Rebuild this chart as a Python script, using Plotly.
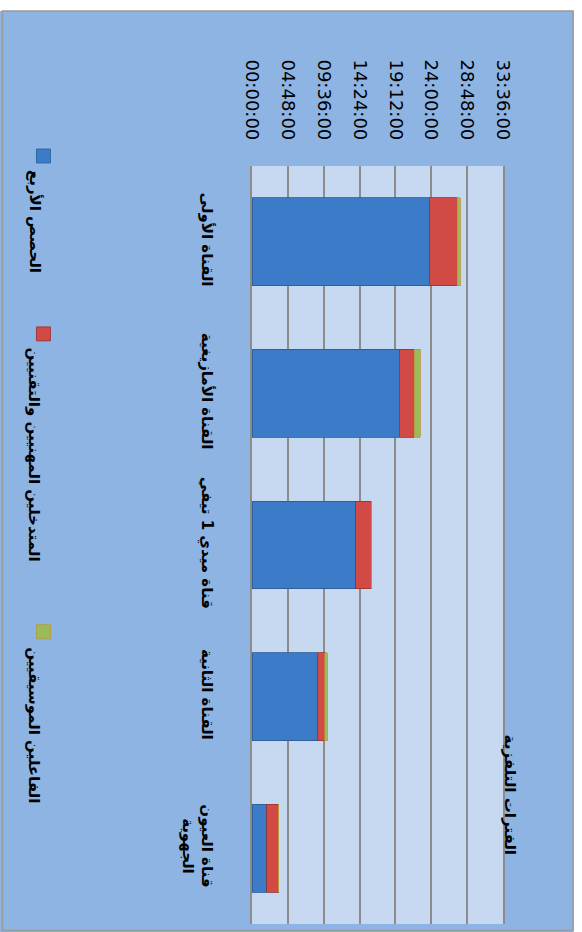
import plotly.graph_objects as go

# ---- data (hours) ----
categories = ["القناة الأولى", "القناة الأمازيغية", "قناة ميدي 1 تيفي", "القناة الثانية", "قناة العيون<br>الجهوية"]
series_names = ["الحصص الأربع", "المتدخلين المهنيين والتقنيين", "الفاعلين الموسيقيين"]
blue_vals = [23.74, 19.72, 13.87, 8.72, 2.00]
red_vals = [3.76, 1.97, 2.15, 1.03, 1.60]
green_vals = [0.36, 0.80, 0.00, 0.31, 0.00]
tick_vals = [0, 4.8, 9.6, 14.4, 19.2, 24.0, 28.8, 33.6]
tick_text = ["00:00:00", "04:48:00", "09:36:00", "14:24:00", "19:12:00", "24:00:00", "28:48:00", "33:36:00"]
title_text = "الفترات التلفزية"

W, H = 582, 932
L, R, T, B = 252.3, 503.0, 166.0, 924.5

def px(x):
    return (x - L) / (R - L)

def py(y):
    return (B - y) / (B - T)

colors = ["#3C7BC8", "#D24A45", "#9BBB59"]
line_colors = ["#2A5A94", "#9A2F2B", "#B8983C"]
vals = [blue_vals, red_vals, green_vals]

fig = go.Figure()
for name, v, c, lc in zip(series_names, vals, colors, line_colors):
    fig.add_trace(go.Bar(
        y=categories, x=v, name=name, orientation="h",
        marker=dict(color=c, line=dict(color=lc, width=0.8)),
        showlegend=False,
    ))

font_ar = "DejaVu Sans"

shapes = []
# white strips outside chart box
shapes.append(dict(type="rect", xref="paper", yref="paper", x0=px(-5), x1=px(W + 5), y0=py(11), y1=py(-5),
                   fillcolor="white", line=dict(width=0), layer="above"))
shapes.append(dict(type="rect", xref="paper", yref="paper", x0=px(573.5), x1=px(W + 5), y0=py(H + 5), y1=py(-5),
                   fillcolor="white", line=dict(width=0), layer="above"))
# chart border
shapes.append(dict(type="rect", xref="paper", yref="paper", x0=px(3), x1=px(573), y0=py(931), y1=py(11),
                   fillcolor="rgba(0,0,0,0)", line=dict(color="#9A9A9A", width=1.5), layer="above"))

# legend markers and texts
legend_marker_y = [149, 327, 625]
legend_text_top = [168, 346, 646]
annotations = []
for i, name in enumerate(series_names):
    y0 = legend_marker_y[i]
    shapes.append(dict(type="rect", xref="paper", yref="paper", x0=px(37), x1=px(51), y0=py(y0 + 14), y1=py(y0),
                       fillcolor=colors[i], line=dict(color=line_colors[i], width=0.8), layer="above"))
    annotations.append(dict(text=name, xref="paper", yref="paper", x=px(35), y=py(legend_text_top[i]),
                            xanchor="center", yanchor="top", textangle=90, showarrow=False,
                            font=dict(family=font_ar, size=15, color="black", weight="bold")))

annotations.append(dict(text=title_text, xref="paper", yref="paper", x=px(510), y=py(733),
                        xanchor="center", yanchor="top", textangle=90, showarrow=False,
                        font=dict(family=font_ar, size=15, color="black", weight="bold")))

fig.update_layout(
    width=W, height=H,
    margin=dict(l=L, r=W - R, t=T, b=H - B, pad=0),
    barmode="stack", bargap=0.42,
    paper_bgcolor="#8DB4E2", plot_bgcolor="#C6D9F1",
    shapes=shapes, annotations=annotations,
    xaxis=dict(range=[0, 33.6], side="top", tickvals=tick_vals, ticktext=tick_text, tickangle=90,
               showgrid=True, gridcolor="#8C8C8C", gridwidth=1.5, zeroline=False, showline=False,
               ticks="", ticklabelstandoff=22,
               tickfont=dict(family="DejaVu Sans", size=18, color="black"), fixedrange=True),
    yaxis=dict(autorange="reversed", tickangle=90, showline=True, mirror=True, linecolor="#8C8C8C", linewidth=1.5,
               showgrid=False, ticks="", ticklabelstandoff=30,
               tickfont=dict(family=font_ar, size=15, color="black", weight="bold"), fixedrange=True),
    showlegend=False,
)

fig.write_html("out.html", config={"displayModeBar": False},
               post_script="document.body.style.margin='0px';document.body.style.overflow='hidden';")
